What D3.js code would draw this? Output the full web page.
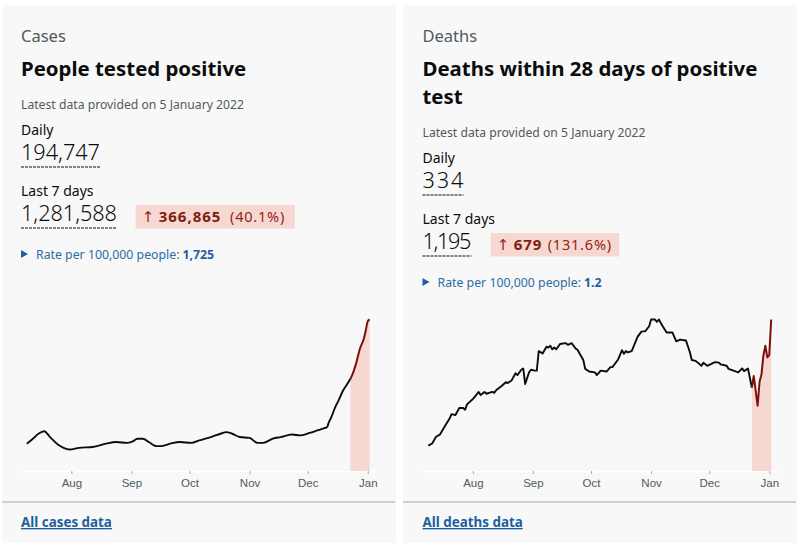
<!DOCTYPE html>
<html>
<head>
<meta charset="utf-8">
<script src="https://cdn.jsdelivr.net/npm/d3@7"></script>
<style>
  html, body { margin: 0; padding: 0; background: #fff; }
  svg { display: block; }
  text { font-family: "Noto Sans", sans-serif; }
  .tick text { font-family: "Liberation Sans", Arial, sans-serif; }
</style>
</head>
<body>
<svg id="chart" width="800" height="547"></svg>
<script>
const caseDates = [
  '2021-07-09','2021-07-12','2021-07-15','2021-07-18','2021-07-21','2021-07-25','2021-07-28','2021-07-31',
  '2021-08-05','2021-08-12','2021-08-19','2021-08-24','2021-08-30','2021-09-02','2021-09-04','2021-09-07',
  '2021-09-10','2021-09-14','2021-09-16','2021-09-21','2021-09-26','2021-10-02','2021-10-06','2021-10-12',
  '2021-10-17','2021-10-20','2021-10-23','2021-10-27','2021-11-01','2021-11-05','2021-11-08','2021-11-13',
  '2021-11-17','2021-11-23','2021-11-27','2021-12-02','2021-12-06','2021-12-10','2021-12-11','2021-12-12',
  '2021-12-13','2021-12-15','2021-12-17','2021-12-19','2021-12-21',
  '2021-12-23','2021-12-24','2021-12-26','2021-12-28','2021-12-30','2021-12-31','2022-01-01','2022-01-02'
];
// thousands of cases, 7 day average
const caseValues = [
  33,38.6,45,48,41,32,28,26,
  28,29,33,35,34,36,39,39,
  35,30,30,33,35,34,37,41,
  45,47,45,41,40,34,34,39,
  41,44,43,46,49,52,53,59.4,
  64,76,85.6,96,103.6,
  111,116,130,148,160,170,181,183
];

const deathDates = [
  '2021-07-09','2021-07-11','2021-07-13','2021-07-15','2021-07-18','2021-07-20','2021-07-21','2021-07-23',
  '2021-07-25','2021-07-27','2021-07-28','2021-07-29','2021-08-01','2021-08-04','2021-08-05','2021-08-07',
  '2021-08-08','2021-08-11','2021-08-12','2021-08-13','2021-08-16','2021-08-18','2021-08-19','2021-08-21',
  '2021-08-23','2021-08-24','2021-08-26','2021-08-27','2021-08-28','2021-08-30','2021-08-31','2021-09-02',
  '2021-09-03','2021-09-04','2021-09-06','2021-09-08','2021-09-09','2021-09-10','2021-09-11','2021-09-12',
  '2021-09-13','2021-09-15','2021-09-18','2021-09-19','2021-09-21','2021-09-23','2021-09-24','2021-09-27',
  '2021-09-28','2021-09-30','2021-10-03','2021-10-04','2021-10-06','2021-10-09','2021-10-11','2021-10-12',
  '2021-10-15','2021-10-17','2021-10-18','2021-10-19','2021-10-20','2021-10-22','2021-10-25','2021-10-27',
  '2021-10-29','2021-10-31','2021-11-01','2021-11-03','2021-11-04','2021-11-05','2021-11-07','2021-11-09',
  '2021-11-12','2021-11-14','2021-11-16','2021-11-19','2021-11-21','2021-11-22','2021-11-24','2021-11-27',
  '2021-11-28','2021-11-30','2021-12-04','2021-12-06','2021-12-07','2021-12-10','2021-12-11','2021-12-16',
  '2021-12-18','2021-12-19','2021-12-21','2021-12-23','2021-12-24','2021-12-26','2021-12-27','2021-12-28',
  '2021-12-29','2021-12-30','2021-12-31','2022-01-01','2022-01-02'
];
const deathValues = [
  28.5,31,38.6,41,52,59,64,63,
  71,71,69,75,81,89,85.5,89,
  87,89,88,91,96,100,99,102,
  110,108,114,115.5,98,111,114,113,
  113,135,132.4,140,139,141,137,139,
  137,143,144,142,144,138,136.5,125,
  115,112,111,108,113,112,117,117,
  125.6,136,132,135,133.5,135,151,157,
  157.5,163,170.6,170.6,168,170.6,163,156,
  156,146,148,147,134,125,124,118.5,
  122,118.5,122.6,122,120,118.5,115,111,
  115.5,112.5,115.5,94,107,73.5,100.5,109,
  130.5,141,128,130.5,170.6
];

const kickers = ['Cases', 'Deaths'];
const titles = [['People tested positive'], ['Deaths within 28 days of positive', 'test']];
const updated = 'Latest data provided on 5 January 2022';
const dailyTotals = ['194,747', '334'];
const weekTotals = ['1,281,588', '1,195'];
const weekChanges = ['366,865', '679'];
const weekPercents = ['(40.1%)', '(131.6%)'];
const rates = ['1,725', '1.2'];
const links = ['All cases data', 'All deaths data'];

const svg = d3.select('#chart');
const parseDate = d3.utcParse('%Y-%m-%d');
const recentFrom = parseDate('2021-12-23');

const xScale = d3.scaleUtc()
  .domain([parseDate('2021-07-06'), parseDate('2022-01-05')])
  .range([21, 375.5]);
const baseY = 471;
const topY = 319.5;

function addText(g, x, y, str, size, color, weight) {
  return g.append('text')
    .attr('x', x).attr('y', y)
    .attr('font-size', size)
    .attr('fill', color)
    .attr('font-weight', weight || 400)
    .text(str);
}

function drawCard(i, dates, values, cardX, chartX, curve, widths) {
  const g = svg.append('g');
  const px = cardX + 19 + i * 0.5;

  g.append('rect').attr('x', cardX).attr('y', 5).attr('width', 394).attr('height', 538).attr('fill', '#f8f8f8');
  g.append('rect').attr('x', cardX).attr('y', 501).attr('width', 393).attr('height', 2).attr('fill', '#cfcfcf');

  addText(g, px, 42, kickers[i], 16.5, '#505a5f');
  titles[i].forEach((t, n) => addText(g, px, 75.5 + n * 28, t, 20.4, '#0b0c0c', 700));

  const dy = (titles[i].length - 1) * 28;
  addText(g, px, 108.5 + dy, updated, 12.2, '#505a5f');
  addText(g, px, 134.5 + dy, 'Daily', 14, '#0b0c0c');
  addText(g, px, 160 + dy, dailyTotals[i], 21.7, '#0b0c0c', 300)
    .attr('textLength', widths.daily);
  g.append('line').attr('x1', px).attr('x2', px + widths.daily)
    .attr('y1', 167 + dy).attr('y2', 167 + dy)
    .attr('stroke', '#0b0c0c').attr('stroke-dasharray', '3,1');

  addText(g, px, 195.5 + dy, 'Last 7 days', 14, '#0b0c0c');
  addText(g, px, 221 + dy, weekTotals[i], 21.7, '#0b0c0c', 300)
    .attr('textLength', widths.week);
  g.append('line').attr('x1', px).attr('x2', px + widths.week)
    .attr('y1', 228 + dy).attr('y2', 228 + dy)
    .attr('stroke', '#0b0c0c').attr('stroke-dasharray', '3,1');

  g.append('rect').attr('x', px + widths.boxX).attr('y', 205 + dy)
    .attr('width', widths.boxW).attr('height', 23.5).attr('fill', '#f6d7d2');
  addText(g, px + widths.boxX + 6, 222 + dy, '↑', 15, '#942514').style('font-family', 'DejaVu Sans');
  addText(g, px + widths.boxX + 23, 222 + dy, weekChanges[i], 15, '#7f1d10', 700).style('letter-spacing', '1px');
  addText(g, px + widths.boxX + widths.pctX, 222 + dy, weekPercents[i], 14.5, '#942514').style('letter-spacing', '0.8px');

  g.append('path')
    .attr('d', `M${px},${250 + dy}L${px + 7},${254 + dy}L${px},${258 + dy}Z`)
    .attr('fill', '#1d5f9e');
  addText(g, px + 15, 258.5 + dy, 'Rate per 100,000 people:', 12.3, '#2b6ca3');
  addText(g, px + 161.5, 258.5 + dy, rates[i], 12.3, '#1d5f9e', 700);

  addText(g, px, 527, links[i], 13.4, '#1d5f9e', 700)
    .attr('text-decoration', 'underline');

  // chart
  const data = dates.map((d, n) => ({ date: parseDate(d), value: values[n] }));
  const recent = data.filter(d => d.date >= recentFrom);
  const older = data.filter(d => d.date <= recentFrom);
  const yScale = d3.scaleLinear().domain([0, d3.max(values)]).range([baseY, topY]);

  const plot = g.append('g').attr('transform', `translate(${chartX},0)`);

  const axis = plot.append('g')
    .attr('transform', `translate(0,${baseY})`)
    .call(d3.axisBottom(xScale)
      .ticks(d3.utcMonth.every(1))
      .tickFormat(d3.utcFormat('%b'))
      .tickSize(3)
      .tickPadding(5)
      .tickSizeOuter(0));
  axis.select('.domain').attr('stroke', '#fff').attr('stroke-width', 1.5);
  axis.selectAll('.tick line').attr('stroke', '#aaa');
  axis.selectAll('.tick text').attr('font-size', 11.5).attr('fill', '#505a5f');

  plot.append('path')
    .datum(recent)
    .attr('d', d3.area().curve(curve).x(d => xScale(d.date)).y0(baseY).y1(d => yScale(d.value)))
    .attr('fill', '#f6d7d2');

  const line = d3.line().curve(curve).x(d => xScale(d.date)).y(d => yScale(d.value));
  plot.append('path').datum(older).attr('d', line)
    .attr('fill', 'none').attr('stroke', '#0b0c0c').attr('stroke-width', 1.9).attr('stroke-linejoin', 'round');
  plot.append('path').datum(recent).attr('d', line)
    .attr('fill', 'none').attr('stroke', '#7a1208').attr('stroke-width', 2).attr('stroke-linejoin', 'round');
}

drawCard(0, caseDates, caseValues, 2, 0, d3.curveMonotoneX, { daily: 79, week: 96, boxX: 114.7, boxW: 159, pctX: 94.3 });
drawCard(1, deathDates, deathValues, 403, 401.5, d3.curveLinear, { daily: 41, week: 49, boxX: 68.2, boxW: 128.5, pctX: 57 });
</script>
</body>
</html>
